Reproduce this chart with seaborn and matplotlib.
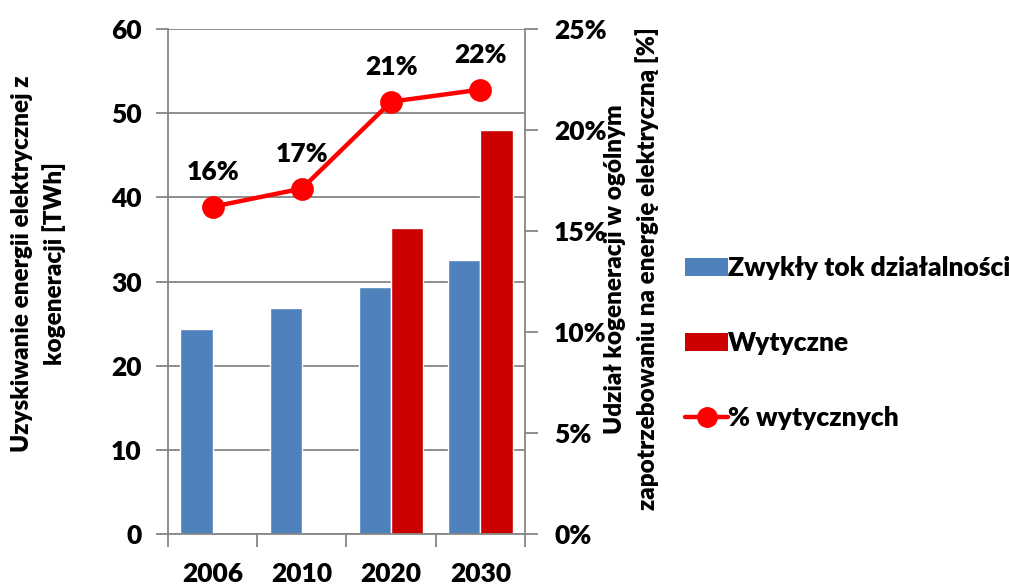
import matplotlib
matplotlib.use("Agg")
import matplotlib.pyplot as plt
import seaborn as sns
import pandas as pd
import numpy as np
from matplotlib.patches import Patch
from matplotlib.lines import Line2D
from matplotlib.ticker import FixedLocator

# ---- data ----
years = ["2006", "2010", "2020", "2030"]
bau_values = [24.4, 26.9, 29.3, 32.5]          # Zwykły tok działalności [TWh]
guideline_values = [np.nan, np.nan, 36.3, 48.0]  # Wytyczne [TWh]
share_values = [16.2, 17.1, 21.4, 22.0]        # % wytycznych
share_labels = ["16%", "17%", "21%", "22%"]
series_names = ["Zwykły tok działalności", "Wytyczne", "% wytycznych"]
left_ticks = [0, 10, 20, 30, 40, 50, 60]
right_ticks = [0, 5, 10, 15, 20, 25]
right_tick_labels = ["0%", "5%", "10%", "15%", "20%", "25%"]
left_label = "Uzyskiwanie energii elektrycznej z\nkogeneracji [TWh]"
right_label = "Udział kogeneracji w ogólnym\nzapotrzebowaniu na energię elektryczną [%]"

BLUE = "#4F81BD"
DARKRED = "#CC0000"
RED = "#FF0000"
GRID = "#868686"

sns.set_theme(style="white")
plt.rcParams["font.family"] = ["Lato", "DejaVu Sans"]
W = "heavy"
plt.rcParams["font.weight"] = W
plt.rcParams["text.color"] = "black"
plt.rcParams["axes.labelcolor"] = "black"
FS = 19
FS_LABEL = 17.5

df = pd.DataFrame({
    "year": years * 2,
    "series": [series_names[0]] * len(years) + [series_names[1]] * len(years),
    "value": bau_values + guideline_values,
})

fig = plt.figure(figsize=(10.09, 5.85), dpi=100)
ax = fig.add_axes([168 / 1009, 1 - 534 / 585, (525 - 168) / 1009, (534 - 29) / 585])

sns.barplot(data=df, x="year", y="value", hue="series", order=years,
            hue_order=series_names[:2], palette=[BLUE, DARKRED],
            width=0.72, saturation=1, ax=ax, legend=False)

ax.set_xlim(-0.5, 3.5)
ax.set_ylim(0, 60)
ax.set_yticks(left_ticks)
ax.yaxis.grid(True, color=GRID, lw=1.3)
ax.set_axisbelow(True)
ax.set_xlabel("")
ax.set_ylabel(left_label, fontsize=FS_LABEL, fontweight=W, linespacing=1.5,
              color="black")
ax.yaxis.set_label_coords(-0.363, 0.535)
ax.yaxis.label.set_verticalalignment("center")
ax.tick_params(axis="y", left=True, length=9, width=1.3, color=GRID,
               labelsize=FS, pad=10, labelcolor="black")
ax.tick_params(axis="x", which="major", length=0, labelsize=FS, pad=20,
               labelcolor="black")
ax.xaxis.set_minor_locator(FixedLocator([-0.5, 0.5, 1.5, 2.5, 3.5]))
ax.tick_params(axis="x", which="minor", bottom=True, length=9, width=1.3, color=GRID)
for s in ["left", "bottom"]:
    ax.spines[s].set_color(GRID)
    ax.spines[s].set_linewidth(1.3)
ax.spines["top"].set_visible(False)
ax.spines["right"].set_visible(False)
for t in ax.get_xticklabels() + ax.get_yticklabels():
    t.set_fontweight(W)

ax2 = ax.twinx()
sns.pointplot(x=years, y=share_values, order=years, color=RED, markers="o",
              markersize=14, linewidth=3.2, ax=ax2)
ax2.set_xlim(-0.5, 3.5)
ax2.set_ylim(0, 25)
ax2.set_yticks(right_ticks)
ax2.set_yticklabels(right_tick_labels)
ax2.set_xlabel("")
ax2.tick_params(axis="y", right=True, length=9, width=1.3, color=GRID,
                labelsize=FS, pad=12, labelcolor="black")
for t in ax2.get_yticklabels():
    t.set_fontweight(W)
ax2.set_ylabel(right_label, fontsize=FS_LABEL, fontweight=W, linespacing=1.5,
               color="black")
ax2.yaxis.set_label_coords(1.298, 0.525)
ax2.yaxis.label.set_verticalalignment("center")
ax2.yaxis.label.set_rotation(90)
for s in ["left", "top", "bottom"]:
    ax2.spines[s].set_visible(False)
ax2.spines["right"].set_color(GRID)
ax2.spines["right"].set_linewidth(1.3)

for i, (v, lbl) in enumerate(zip(share_values, share_labels)):
    ax2.annotate(lbl, (i, v), xytext=(0, 25), textcoords="offset points",
                 ha="center", va="center", fontsize=FS, fontweight=W,
                 color="black")

handles = [Patch(facecolor=BLUE, edgecolor="none"),
           Patch(facecolor=DARKRED, edgecolor="none"),
           Line2D([], [], color=RED, lw=3.2, marker="o", markersize=14)]
fig.legend(handles, series_names, loc="upper left",
           bbox_to_anchor=(685 / 1009, 1 - 256 / 585), frameon=False,
           prop={"weight": W, "size": FS},
           handlelength=1.63, handleheight=0.68, handletextpad=0.0,
           labelspacing=1.94, borderpad=0, borderaxespad=0)

fig.savefig("out.png", dpi=100)
